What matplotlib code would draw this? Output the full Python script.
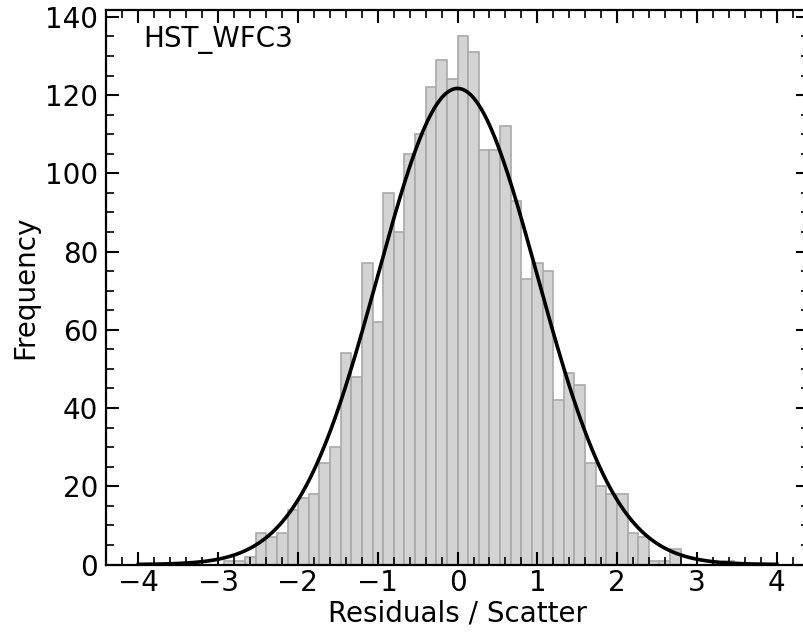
import numpy as np
import matplotlib
matplotlib.use("Agg")
import matplotlib.pyplot as plt
from matplotlib.ticker import MultipleLocator

# Histogram data
bin_start = -2.928          # left edge of the first bin
bin_width = 0.1331
counts = [1, 1, 2, 8, 7, 8, 14, 17, 18, 26, 30,
          54, 48, 77, 62, 95, 85, 105, 110, 122, 129, 124,
          135, 131, 106, 106, 112, 93, 73, 77, 75,
          42, 49, 46, 26, 20, 18, 18, 8, 7, 1, 1, 4, 0, 0, 0, 0, 1]

# Gaussian fit parameters
fit_mu = 0.0
fit_sigma = 1.0
label_text = "HST_WFC3"

counts = np.array(counts, dtype=float)
edges = bin_start + bin_width * np.arange(len(counts) + 1)

fig = plt.figure(figsize=(8.04, 6.34), dpi=100)
ax = fig.add_axes([0.1323, 0.1096, 0.8736, 0.8746])

ax.hist(edges[:-1] + bin_width / 2, bins=edges, weights=counts,
        facecolor='lightgray', edgecolor='darkgray', linewidth=1.2)

xs = np.linspace(-4, 4, 400)
amp = counts.sum() * bin_width
ys = amp / (fit_sigma * np.sqrt(2 * np.pi)) * np.exp(-0.5 * ((xs - fit_mu) / fit_sigma) ** 2)
ax.plot(xs, ys, color='black', lw=2.6)

ax.set_xlim(-4.4, 4.4)
ax.set_ylim(0, 141.75)

ax.xaxis.set_major_locator(MultipleLocator(1))
ax.xaxis.set_minor_locator(MultipleLocator(0.2))
ax.yaxis.set_major_locator(MultipleLocator(20))
ax.yaxis.set_minor_locator(MultipleLocator(5))
ax.tick_params(which='both', direction='in', top=True, right=True, labelsize=20)
ax.tick_params(axis='x', which='both', pad=3.5)
ax.tick_params(axis='y', which='both', pad=6)
ax.tick_params(which='major', length=9.5, width=1.5)
ax.tick_params(which='minor', length=5.5, width=1.2)
for sp in ax.spines.values():
    sp.set_linewidth(1.6)

ax.set_xlabel("Residuals / Scatter", fontsize=20, labelpad=1.5)
ax.set_ylabel("Frequency", fontsize=20)
ax.text(0.0525, 0.934, label_text, transform=ax.transAxes, fontsize=20,
        ha='left', va='baseline')

fig.savefig("out.png", dpi=100)
